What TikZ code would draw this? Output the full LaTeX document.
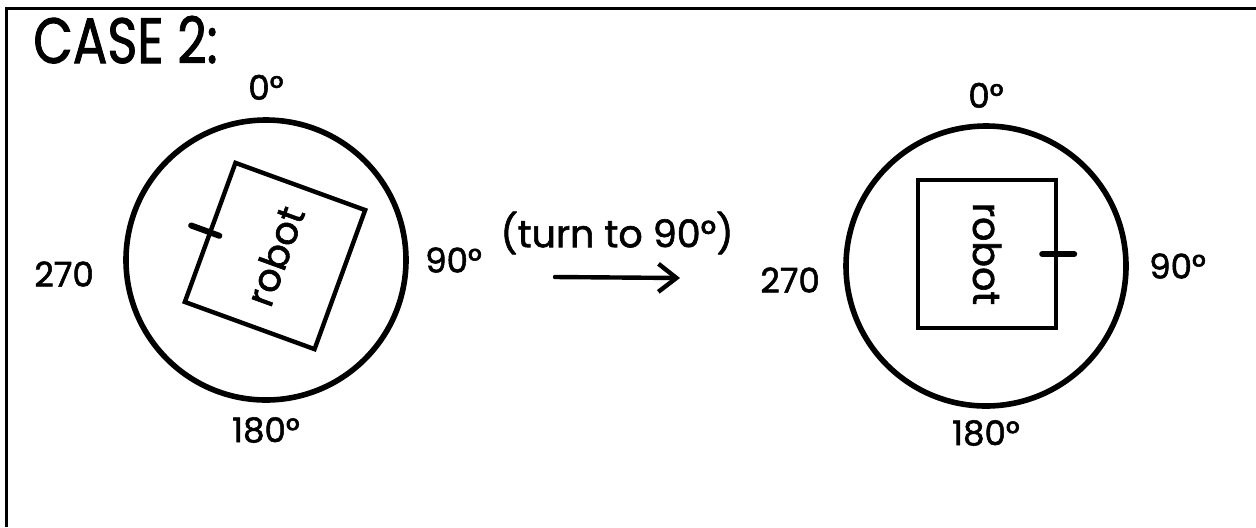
\documentclass[tikz,border=0pt]{standalone}
\usepackage{fontspec}
\setmainfont{Poppins}[FakeBold=1.6]
\usetikzlibrary{arrows.meta, positioning, calc}

\begin{document}
\begin{tikzpicture}[x=0.5pt, y=-0.5pt,
  dial/.style={draw, circle, line width=2.8pt, minimum size=140pt, inner sep=0pt},
  robotbox/.style={draw, line width=2.2pt, minimum width=74pt, minimum height=69pt, inner sep=0pt,
    font=\fontsize{19}{22}\selectfont},
  heading/.style={inner sep=0pt, font=\fontsize{19}{22}\selectfont},
  deg/.style={inner sep=0pt, font=\fontsize{17}{20}\selectfont},
  tick/.style={line width=3pt, line cap=round},
  turnarrow/.style={line width=2.2pt, line cap=round,
    -{Straight Barb[length=9pt, width=14pt, line width=2.2pt]}}
]
\useasboundingbox (0,0) rectangle (1256,527);
\draw[line width=1.5pt] (6,527) |- (1256,8);

% title
\node[inner sep=0pt, anchor=base west, xscale=0.8, font=\fontsize{32}{36}\selectfont] (title) at (33,63) {CASE 2:};

% before the turn
\node[dial] (dialA) at (266,260) {};
\node[robotbox, rotate=70] (robotA) at (275,256) {robot};
\draw[tick] ($(robotA.north)!6pt!(robotA.center)$) -- ($(robotA.north)!-9pt!(robotA.center)$);
\node[deg, above=8.5pt of dialA] (zeroA) {0°};
\node[deg, right=8pt of dialA] (ninetyA) {90°};
\node[deg, below=7pt of dialA] (southA) {180°};
\node[deg, left=14.5pt of dialA, yshift=-7pt] (westA) {270};

% the turn
\node[heading] (turn) at (617,233) {(turn to 90°)};
\coordinate (arrowFrom) at (555,277);
\coordinate (arrowTo) at (680,278);
\draw[turnarrow] (arrowFrom) -- (arrowTo);

% after the turn
\node[dial] (dialB) at (986,266) {};
\node[robotbox, rotate=-90] (robotB) at (987,254) {robot};
\draw[tick] ($(robotB.north)!8pt!(robotB.center)$) -- ($(robotB.north)!-8pt!(robotB.center)$);
\node[deg, above=7.5pt of dialB] (zeroB) {0°};
\node[deg, right=10pt of dialB] (ninetyB) {90°};
\node[deg, below=5.5pt of dialB] (southB) {180°};
\node[deg, left=11.5pt of dialB, yshift=-7pt] (westB) {270};
\end{tikzpicture}
\end{document}
